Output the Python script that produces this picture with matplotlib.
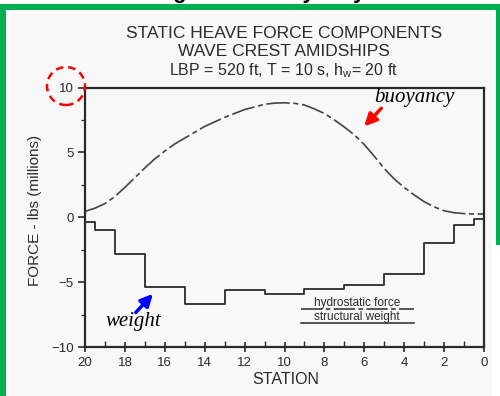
import matplotlib
matplotlib.use("Agg")
import matplotlib.pyplot as plt
from matplotlib.patches import Rectangle, Ellipse
import numpy as np

# structural weight: step edges (station) and value on each interval (lbs millions)
weight_edges = [20, 19.5, 18.5, 17, 15, 13, 11, 9, 7, 5, 3, 1.5, 0.5, 0]
weight_vals = [-0.4, -1.0, -2.8, -5.4, -6.7, -5.6, -5.9, -5.5, -5.2, -4.4, -2.0, -0.6, -0.15]

# hydrostatic force (buoyancy) every half station
buoy_station = [20, 19.5, 19, 18.5, 18, 17.5, 17, 16.5, 16, 15.5, 15, 14.5, 14, 13.5,
                13, 12.5, 12, 11.5, 11, 10.5, 10, 9.5, 9, 8.5, 8, 7.5, 7, 6.5, 6,
                5.5, 5, 4.5, 4, 3.5, 3, 2.5, 2, 1.5, 1, 0.5, 0]
buoy_force = [0.45, 0.7, 1.05, 1.6, 2.3, 3.05, 3.8, 4.5, 5.1, 5.65, 6.1, 6.55, 7.0, 7.35,
              7.7, 8.0, 8.3, 8.5, 8.7, 8.8, 8.82, 8.78, 8.65, 8.35, 8.0, 7.5, 6.95, 6.35, 5.6,
              4.7, 3.75, 2.95, 2.3, 1.72, 1.2, 0.8, 0.5, 0.35, 0.28, 0.25, 0.25]

W, H = 500, 396
fig = plt.figure(figsize=(W / 100, H / 100), dpi=100, facecolor="white")

def fx(x):
    return x / W

def fy(y):
    return 1 - y / H

# scanned page background
fig.patches.append(Rectangle((fx(10), 0), fx(482), fy(14), transform=fig.transFigure,
                             facecolor="#f8f8f8", edgecolor="none", zorder=-2))
# green frame
green = "#00b050"
fig.patches.append(Rectangle((0, fy(10)), 1, 6 / H, transform=fig.transFigure,
                             facecolor=green, edgecolor="none", zorder=-1))
fig.patches.append(Rectangle((0, 0), fx(6), fy(4), transform=fig.transFigure,
                             facecolor=green, edgecolor="none", zorder=-1))
fig.patches.append(Rectangle((fx(496), fy(245)), fx(4), 241 / H, transform=fig.transFigure,
                             facecolor=green, edgecolor="none", zorder=-1))

# cut-off heading above the frame (only its bottom shows, as in the scan)
fig.text(0.5, fy(3), "Weight and Buoyancy", ha="center", va="bottom",
         fontsize=16, fontweight="bold", family="Liberation Sans")

ax = fig.add_axes([fx(85), fy(347), fx(484) - fx(85), fy(87.5) - fy(347)])
ax.set_zorder(3)
ax.set_facecolor("#f8f8f8")

ink = "#2a2a2a"
dashdot = (0, (14, 2.2, 3, 2.2))
ax.plot(buoy_station, buoy_force, color="#444444", lw=1.2, linestyle=dashdot)
ax.step(weight_edges, weight_vals + [weight_vals[-1]], where="post", color=ink, lw=1.3)

ax.set_xlim(20, 0)
ax.set_ylim(-10, 10)
ax.set_xticks(np.arange(0, 21, 2))
ax.set_xticks(np.arange(0, 21, 1), minor=True)
ax.set_yticks([-10, -5, 0, 5, 10])
ax.set_yticks(np.arange(-10, 10.1, 2.5), minor=True)
for s in ax.spines.values():
    s.set_linewidth(1.6)
    s.set_color(ink)
ax.tick_params(axis="x", which="major", direction="inout", length=7, width=1.2,
               labelsize=9.5, colors=ink, pad=4)
ax.tick_params(axis="x", which="minor", direction="in", length=4, width=1.0, colors=ink)
ax.tick_params(axis="y", which="major", direction="out", length=5, width=1.2,
               labelsize=9.5, colors=ink, pad=3)
ax.tick_params(axis="y", which="minor", direction="out", length=3, width=0.9, colors=ink)
for lab in ax.get_xticklabels() + ax.get_yticklabels():
    lab.set_family("Liberation Sans")

fig.text(fx(35), fy(210), "FORCE - lbs (millions)", rotation=90, ha="center", va="center",
         fontsize=11, color=ink, family="Liberation Sans")
fig.text(fx(286), fy(379), "STATION", ha="center", va="center",
         fontsize=11.5, color=ink, family="Liberation Sans")

fig.text(fx(284), fy(33), "STATIC HEAVE FORCE COMPONENTS", ha="center", va="center",
         fontsize=12.5, color=ink, family="Liberation Sans")
fig.text(fx(284), fy(52), "WAVE CREST AMIDSHIPS", ha="center", va="center",
         fontsize=12.5, color=ink, family="Liberation Sans")
fig.text(fx(284), fy(71), r"LBP = 520 ft, T = 10 s, h$_{\mathregular{w}}$= 20 ft", ha="center",
         va="center", fontsize=11.5, color=ink, family="Liberation Sans")

# legend drawn as in the original
ax.text(6.37, -6.6, "hydrostatic force", ha="center", va="center", fontsize=8.5,
        color=ink, family="Liberation Sans")
ax.plot([9.17, 3.5], [-7.1, -7.1], color=ink, lw=1.1, linestyle=dashdot)
ax.text(6.37, -7.65, "structural weight", ha="center", va="center", fontsize=8.5,
        color=ink, family="Liberation Sans")
ax.plot([9.17, 3.5], [-8.15, -8.15], color=ink, lw=1.1)

# annotations
ax.text(3.5, 9.2, "buoyancy", ha="center", va="center", fontsize=15, style="italic",
        family="Liberation Serif", color="black")
ax.annotate("", xy=(6.1, 6.85), xytext=(5.05, 8.55),
            arrowprops=dict(arrowstyle="-|>", color="red", lw=2.5, mutation_scale=18))
ax.text(17.6, -8.0, "weight", ha="center", va="center", fontsize=15, style="italic",
        family="Liberation Serif", color="black")
ax.annotate("", xy=(16.5, -5.75), xytext=(17.55, -7.5),
            arrowprops=dict(arrowstyle="-|>", color="blue", lw=2.5, mutation_scale=18))

fig.patches.append(Ellipse((fx(66), fy(86)), 38 / W, 38 / H, transform=fig.transFigure,
                           fill=False, edgecolor="red", lw=1.8, linestyle=(0, (3, 2)),
                           zorder=5))

fig.savefig("out.png", dpi=100, facecolor="white")
